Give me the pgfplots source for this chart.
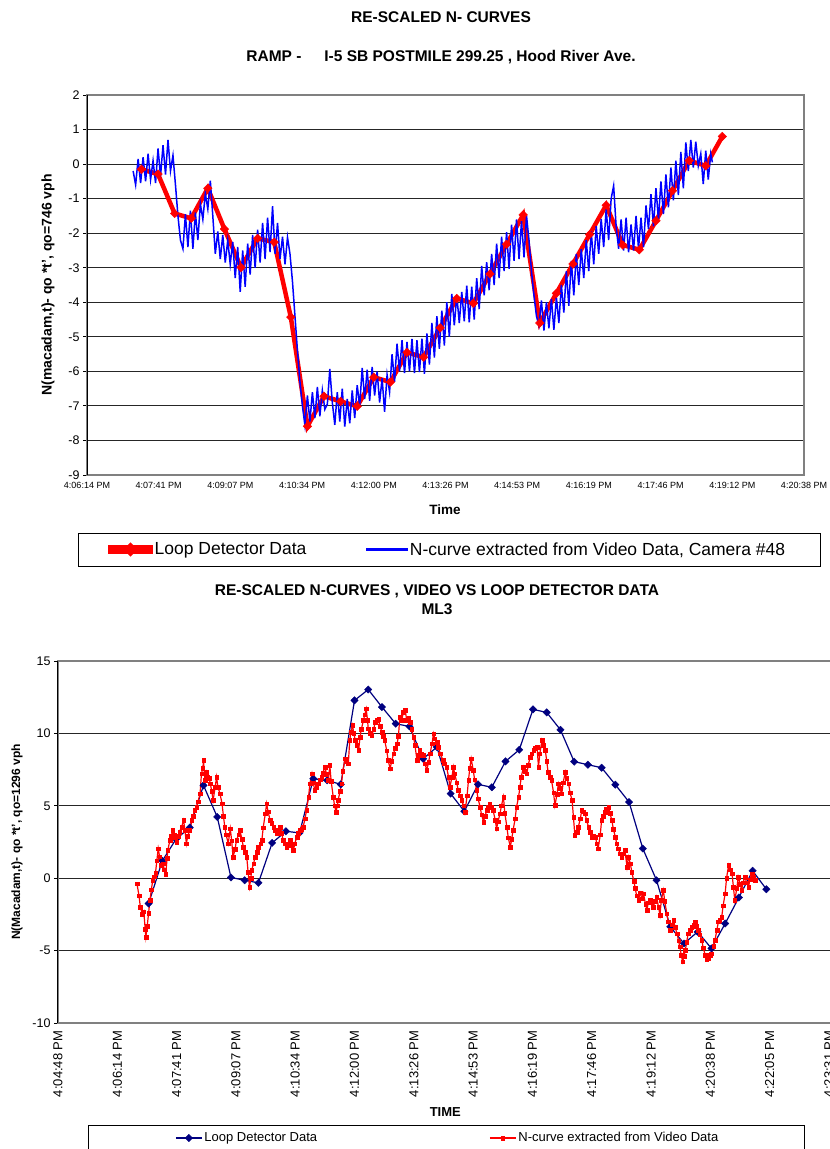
\documentclass[border=0pt]{standalone}
\usepackage{pgfplots}
\usepackage{pgfplotstable}
\pgfplotsset{compat=1.18}
\usepackage{fontspec}
\setmainfont{Liberation Sans}

\definecolor{loopred}{RGB}{255,0,0}
\definecolor{vidblue}{RGB}{0,0,255}
\definecolor{loopnavy}{RGB}{0,0,128}
\definecolor{framegray}{RGB}{128,128,128}

% ---- Ramp, I-5 SB postmile 299.25 (time in s after 4:00:00 PM) ----
% loop detector, 20 s counts
\pgfplotstableread{
t y
440 -0.15
460 -0.29
480 -1.43
500 -1.57
520 -0.70
540 -1.88
560 -2.99
580 -2.15
600 -2.26
620 -4.43
640 -7.59
660 -6.72
680 -6.87
700 -7.01
720 -6.17
740 -6.31
760 -5.45
780 -5.59
800 -4.74
820 -3.89
840 -4.03
860 -3.18
880 -2.32
900 -1.47
920 -4.60
940 -3.74
960 -2.89
980 -2.04
1000 -1.19
1020 -2.34
1040 -2.48
1060 -1.64
1080 -0.77
1100 0.10
1120 -0.05
1140 0.80
}\rampLoop

% video extracted N-curve, camera #48
\pgfplotstableread{
t y
430 -0.20
433 -0.60
436 0.15
439 -0.55
442 0.20
445 -0.50
448 0.30
451 -0.45
454 0.10
457 -0.55
460 0.45
463 -0.35
466 0.55
469 -0.30
472 0.70
475 -0.20
478 0.25
481 -0.60
484 -1.50
487 -2.20
490 -2.45
493 -1.45
496 -2.40
499 -1.35
502 -2.45
505 -1.40
508 -2.20
511 -1.15
514 -1.60
517 -0.85
520 -1.30
523 -0.48
526 -1.50
529 -2.60
532 -1.95
535 -2.75
538 -2.05
541 -2.85
544 -2.20
547 -2.90
550 -2.25
553 -3.30
556 -2.40
559 -3.70
562 -2.50
565 -3.55
568 -2.30
571 -3.20
574 -2.05
577 -3.00
580 -1.90
583 -2.85
586 -1.70
589 -2.75
592 -1.55
595 -2.55
598 -1.22
601 -2.60
604 -1.70
607 -2.75
610 -2.10
613 -2.90
616 -2.12
619 -2.60
622 -3.40
625 -4.40
628 -5.40
631 -6.30
634 -7.00
637 -7.56
640 -6.70
643 -7.45
646 -6.60
649 -7.35
652 -6.45
655 -7.30
658 -6.55
661 -7.10
664 -6.95
667 -5.93
670 -6.90
673 -7.55
676 -6.60
679 -7.45
682 -6.50
685 -7.60
688 -6.80
691 -7.50
694 -6.55
697 -7.35
700 -6.40
703 -7.00
706 -5.90
709 -6.80
712 -5.95
715 -6.85
718 -5.87
721 -6.70
724 -6.00
727 -6.90
730 -6.20
733 -7.17
736 -6.10
739 -6.60
742 -5.50
745 -6.30
748 -5.20
751 -6.00
754 -5.10
757 -6.05
760 -5.15
763 -6.00
766 -5.06
769 -6.05
772 -5.10
775 -6.02
778 -5.05
781 -6.07
784 -4.90
787 -5.80
790 -4.60
793 -5.60
796 -4.40
799 -5.35
802 -4.24
805 -5.25
808 -4.00
811 -5.00
814 -3.76
817 -4.67
820 -3.80
823 -4.60
826 -3.70
829 -4.55
832 -3.52
835 -4.58
838 -3.55
841 -4.50
844 -3.30
847 -4.20
850 -2.95
853 -3.80
856 -2.84
859 -3.65
862 -2.60
865 -3.50
868 -2.30
871 -3.30
874 -2.10
877 -3.10
880 -1.97
883 -3.03
886 -1.75
889 -2.80
892 -1.60
895 -2.75
898 -1.65
901 -2.70
904 -1.49
907 -2.20
910 -3.10
913 -3.80
916 -4.40
919 -4.67
922 -3.95
925 -4.82
928 -4.00
931 -4.75
934 -3.90
937 -4.80
940 -3.85
943 -4.60
946 -3.50
949 -4.30
952 -3.10
955 -4.10
958 -2.80
961 -3.80
964 -2.60
967 -3.50
970 -2.46
973 -3.30
976 -2.20
979 -3.10
982 -1.95
985 -2.90
988 -1.80
991 -2.60
994 -1.59
997 -2.40
1000 -1.30
1003 -2.20
1006 -1.00
1009 -0.63
1012 -1.80
1015 -2.45
1018 -1.60
1021 -2.50
1024 -1.55
1027 -2.55
1030 -1.75
1033 -2.50
1036 -1.50
1039 -2.45
1042 -1.55
1045 -2.40
1048 -1.20
1051 -1.88
1054 -0.87
1057 -1.80
1060 -0.70
1063 -1.60
1066 -0.50
1069 -1.45
1072 -0.30
1075 -1.25
1078 -0.10
1081 -1.05
1084 0.10
1087 -0.90
1090 0.35
1093 -0.70
1096 0.63
1099 -0.20
1102 0.70
1105 -0.10
1108 0.65
1111 -0.05
1114 0.30
1117 -0.58
1120 0.39
1123 -0.45
1126 0.30
1128 0.05
}\rampVideo

% ---- Mainline ML3 ----
\pgfplotstableread{
t y
420 -1.75
440 1.20
460 2.70
480 3.50
500 6.41
520 4.23
540 0.05
560 -0.14
580 -0.32
600 2.44
620 3.24
640 3.13
660 6.87
680 6.76
700 6.48
720 12.28
740 13.03
760 11.82
780 10.67
800 10.48
820 8.25
840 9.06
860 5.84
880 4.62
900 6.48
920 6.28
940 8.07
960 8.87
980 11.66
1000 11.45
1020 10.25
1040 8.05
1060 7.84
1080 7.63
1100 6.46
1120 5.26
1140 2.05
1160 -0.14
1180 -3.35
1200 -4.51
1220 -3.70
1240 -4.85
1260 -3.13
1280 -1.33
1300 0.51
1320 -0.76
}\mlLoop

\pgfplotstableread{
t y
403 -0.37
406 -1.20
408 -2.00
411 -2.50
413 -2.30
415 -3.50
416 -4.05
418 -3.30
420 -2.40
422 -1.50
424 -0.80
426 -0.14
428 0.10
430 0.35
432 1.20
434 2.05
436 1.50
438 0.90
441 1.00
443 0.60
445 0.30
447 1.40
448 1.93
451 2.62
453 2.90
455 3.31
457 3.00
459 2.85
461 2.50
463 2.90
465 3.20
468 3.54
471 4.00
473 3.30
475 2.39
477 2.90
480 3.30
483 4.00
485 4.30
487 4.69
490 4.90
492 5.30
495 5.84
497 7.22
499 7.60
500 8.14
502 6.76
504 7.33
506 7.00
508 6.90
510 6.53
512 6.00
514 5.38
517 6.30
519 6.99
521 6.30
524 5.84
527 5.15
529 4.30
531 3.54
533 3.00
536 2.39
539 3.42
541 2.60
543 1.47
546 2.00
548 2.62
551 3.00
553 3.31
556 2.70
558 2.16
561 1.80
563 1.47
565 0.40
567 -0.60
569 0.00
570 0.55
573 1.00
575 1.47
578 1.80
580 2.16
583 2.40
585 2.62
587 3.50
590 4.46
592 5.15
594 4.60
597 4.00
599 3.80
602 3.54
604 3.30
607 3.08
609 3.30
612 3.54
614 3.10
616 2.62
619 2.40
621 2.16
623 2.40
626 2.62
628 2.30
631 1.93
633 2.40
636 2.85
638 3.10
641 3.31
643 3.40
645 3.54
648 4.10
650 4.69
653 5.60
655 6.53
658 7.22
660 6.60
662 6.07
665 6.30
667 6.53
670 6.80
672 6.99
674 7.30
677 7.68
679 7.20
682 6.76
684 7.79
686 6.70
689 5.61
691 5.00
693 4.57
695 5.00
696 5.38
699 6.00
701 6.53
703 7.40
706 8.25
708 8.10
711 7.91
713 9.52
715 10.10
717 10.55
719 10.00
721 9.52
723 9.20
726 8.83
728 9.75
730 10.30
733 10.90
735 11.30
737 11.70
739 10.90
740 10.32
743 10.00
745 9.86
748 10.30
750 10.78
752 10.90
755 11.00
757 10.50
760 10.09
762 9.80
764 9.52
767 8.80
769 8.14
772 7.56
774 8.10
777 8.60
779 9.00
782 9.29
784 9.80
786 11.13
789 10.90
791 11.47
794 11.59
796 10.90
799 11.10
801 10.78
803 10.30
806 9.75
808 9.20
811 8.14
813 8.50
815 8.83
818 8.60
820 8.48
823 7.90
825 7.45
828 8.00
830 8.60
833 9.30
835 9.98
837 9.63
840 9.40
842 9.06
845 8.60
849 8.14
851 7.90
854 7.68
857 7.00
859 6.30
862 7.00
864 7.68
866 7.22
869 6.60
871 6.07
874 5.70
876 5.38
879 5.00
881 4.57
884 5.70
886 6.76
888 7.60
890 8.25
893 7.45
895 6.80
898 6.07
900 5.50
903 4.92
905 4.40
908 3.89
910 4.30
913 4.69
915 4.90
917 5.15
920 4.90
922 4.69
925 4.00
927 3.43
929 3.90
932 4.46
934 5.00
937 5.61
939 4.50
942 3.54
944 2.80
947 2.16
949 2.70
951 3.31
954 4.10
956 4.92
959 5.60
961 6.30
963 7.00
966 7.68
968 7.40
971 7.22
973 7.80
976 8.37
978 8.60
981 8.83
983 9.00
986 9.06
988 7.68
990 8.60
993 9.52
995 9.20
998 8.83
1000 8.10
1002 7.33
1005 7.00
1007 6.76
1010 5.90
1012 5.03
1015 5.80
1017 6.53
1019 6.20
1022 5.84
1024 6.60
1027 7.33
1029 6.90
1032 6.53
1034 5.90
1037 5.38
1039 4.20
1041 2.97
1044 3.20
1046 3.54
1049 4.10
1051 4.69
1053 4.60
1056 4.46
1058 4.00
1061 3.54
1063 3.20
1066 2.85
1068 2.90
1071 2.85
1073 2.40
1075 2.05
1078 3.00
1080 4.00
1082 4.30
1085 4.57
1087 4.80
1090 4.92
1092 4.50
1095 4.00
1097 3.40
1100 2.85
1102 2.40
1104 2.05
1107 1.70
1109 1.47
1112 1.70
1114 1.93
1117 0.78
1119 1.47
1122 1.00
1124 0.40
1127 -0.20
1129 -0.70
1131 -1.20
1134 -1.52
1136 -1.00
1139 -1.40
1141 -1.06
1144 -1.80
1146 -2.21
1148 -1.70
1151 -1.52
1153 -1.70
1155 -1.98
1158 -1.60
1160 -1.29
1163 -2.00
1165 -2.55
1167 -1.50
1170 -0.83
1172 -1.60
1175 -2.44
1177 -3.00
1180 -3.59
1182 -3.20
1185 -2.90
1187 -3.40
1190 -3.82
1192 -4.30
1194 -4.74
1196 -5.30
1198 -5.77
1200 -5.40
1202 -4.97
1204 -4.40
1206 -3.82
1209 -3.60
1211 -3.36
1214 -3.20
1216 -3.01
1218 -3.30
1221 -3.59
1223 -3.90
1226 -4.28
1228 -4.80
1231 -5.31
1233 -5.60
1236 -5.54
1238 -5.30
1240 -5.20
1243 -4.70
1245 -4.28
1248 -3.60
1250 -3.01
1252 -2.90
1255 -2.67
1257 -1.90
1260 -1.06
1262 0.00
1265 0.90
1267 0.60
1270 0.32
1272 -0.60
1274 -1.52
1277 -0.70
1279 0.09
1282 -0.40
1284 -0.83
1286 -0.30
1289 0.09
1291 -0.30
1294 -0.60
1296 -0.10
1299 0.32
1301 0.10
1304 -0.14
}\mlVideo

\pgfplotsset{
  chartbase/.style={
    scale only axis,
    /pgf/number format/assume math mode=true,
    axis line style={framegray, line width=1.4pt},
    ymajorgrids,
    grid style={black!85, line width=0.9pt},
    tick pos=left,
    tick align=outside,
    major tick length=4pt,
    xtick style={draw=none},
    ytick style={black, line width=0.9pt},
    legend columns=2,
    legend cell align=left,
    after end axis/.append code={
      \draw[black, line width=1pt] (rel axis cs:0,0) -- (rel axis cs:0,1);
    },
  },
}

\begin{document}
\begin{tikzpicture}[x=1pt,y=1pt]
\path[use as bounding box] (0,0) rectangle (830,-1149);
\clip (0,0) rectangle (830,-1149);
\fill[white] (0,0) rectangle (830,-1149);

% titles of the ramp chart
\node[font=\bfseries\fontsize{15.5}{18}\selectfont] at (441,-17) {RE-SCALED N- CURVES};
\node[font=\bfseries\fontsize{15.5}{18}\selectfont] at (441,-57) {RAMP -\hspace{1.2em} I-5 SB POSTMILE 299.25 , Hood River Ave.};

\begin{axis}[chartbase,
  at={(87pt,-95pt)}, anchor=north west,
  width=717pt, height=380pt,
  xmin=374.4, xmax=1238.4, ymin=-9, ymax=2,
  xtick={374.4,460.8,547.2,633.6,720,806.4,892.8,979.2,1065.6,1152,1238.4},
  xticklabels={4:06:14 PM,4:07:41 PM,4:09:07 PM,4:10:34 PM,4:12:00 PM,4:13:26 PM,4:14:53 PM,4:16:19 PM,4:17:46 PM,4:19:12 PM,4:20:38 PM},
  ytick={-9,-8,...,2},
  xticklabel style={font=\fontsize{9}{10}\selectfont},
  yticklabel style={font=\fontsize{12.5}{14}\selectfont},
  xlabel={Time},
  xlabel style={font=\bfseries\fontsize{13.5}{15}\selectfont, at={(axis description cs:0.4993,-0.092)}, anchor=center},
  ylabel={N(macadam,t)- qo *t', qo=746 vph},
  ylabel style={font=\bfseries\fontsize{14}{16}\selectfont, at={(axis description cs:-0.0544,0.5)}, anchor=center},
  legend style={at={(axis description cs:0.0293,-0.196)}, anchor=west, draw=none, fill=none,
    font=\fontsize{17.5}{20}\selectfont, inner sep=0pt,
    /tikz/every even column/.append style={column sep=58pt}},
]
\addplot[color=loopred, line width=4.5pt, mark=square*, mark size=3pt, mark options={rotate=45, line width=0.5pt},
  legend image code/.code={\fill[loopred] (0pt,-2.25pt) rectangle (40pt,2.25pt);
    \fill[loopred] (20pt,0pt) +(-4pt,0pt) -- +(0pt,4pt) -- +(4pt,0pt) -- +(0pt,-4pt) -- cycle;}]
  table[x=t,y=y] {\rampLoop};
\addlegendentry{Loop Detector Data}
\addplot[color=vidblue, line width=1.5pt,
  legend image code/.code={\fill[fill=vidblue] (0pt,-0.8pt) rectangle (40pt,0.8pt);}]
  table[x=t,y=y] {\rampVideo};
\addlegendentry{N-curve extracted from Video Data, Camera \#48}
\end{axis}
\draw[black, line width=1pt] (78,-533) rectangle (820,-566);

% titles of the ML3 chart
\node[font=\bfseries\fontsize{15.5}{18}\selectfont] at (437,-591) {RE-SCALED N-CURVES , VIDEO VS LOOP DETECTOR DATA};
\node[font=\bfseries\fontsize{15.5}{18}\selectfont] at (437,-609) {ML3};

\begin{axis}[chartbase,
  at={(58pt,-661pt)}, anchor=north west,
  width=773pt, height=362pt,
  xmin=288, xmax=1414.2, ymin=-10, ymax=15,
  xtick={288,374.4,460.8,547.2,633.6,720,806.4,892.8,979.2,1065.6,1152,1238.4,1324.8,1411.2},
  xticklabels={4:04:48 PM,4:06:14 PM,4:07:41 PM,4:09:07 PM,4:10:34 PM,4:12:00 PM,4:13:26 PM,4:14:53 PM,4:16:19 PM,4:17:46 PM,4:19:12 PM,4:20:38 PM,4:22:05 PM,4:23:31 PM},
  ytick={-10,-5,...,15},
  xticklabel style={font=\fontsize{13}{15}\selectfont, rotate=90, anchor=east},
  yticklabel style={font=\fontsize{12.5}{14}\selectfont},
  xlabel={TIME},
  xlabel style={font=\bfseries\fontsize{13}{15}\selectfont, at={(axis description cs:0.501,-0.2459)}, anchor=center},
  ylabel={N(Macadam,t)- qo *t', qo=1296 vph},
  ylabel style={font=\bfseries\fontsize{12}{14}\selectfont, at={(axis description cs:-0.0530,0.5)}, anchor=center},
  legend style={at={(axis description cs:0.1514,-0.3177)}, anchor=west, draw=none, fill=none,
    font=\fontsize{13}{15}\selectfont, inner sep=0pt,
    /tikz/every even column/.append style={column sep=170pt}},
  legend image code/.code={\draw[mark repeat=2,mark phase=2,#1] plot coordinates {(0pt,0pt) (13pt,0pt) (26pt,0pt)};},
]
\addplot[color=loopnavy, line width=1.2pt, mark=square*, mark size=2.6pt, mark options={rotate=45, line width=0.4pt}] table[x=t,y=y] {\mlLoop};
\addlegendentry{Loop Detector Data}
\addplot[color=loopred, line width=1.2pt, mark=square*, mark size=1.8pt, mark options={line width=0.3pt}] table[x=t,y=y] {\mlVideo};
\addlegendentry{N-curve extracted from Video Data}
\end{axis}
\draw[black, line width=1pt] (88,-1125) rectangle (804,-1170);
\end{tikzpicture}
\end{document}
